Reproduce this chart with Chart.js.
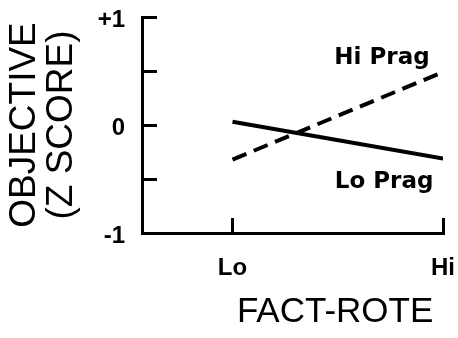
<!DOCTYPE html>
<html>
<head>
<meta charset="utf-8">
<script src="https://cdn.jsdelivr.net/npm/chart.js@4"></script>
<style>
  body { margin: 0; background: #fff; }
  canvas { display: block; }
</style>
</head>
<body>
<canvas id="pragChart" width="458" height="338"></canvas>
<script>
// fact-rote level (Lo, Hi)
const factRote = [0, 1];
const xTickLabels = ['Lo', 'Hi'];

// objective z scores
const hiPrag = [-0.32, 0.49];
const loPrag = [0.03, -0.31];

const yTickValues = [-1, 0, 1];
const yTickLabels = ['-1', '0', '+1'];

const seriesNames = ['Hi Prag', 'Lo Prag'];

function toPoints(values) {
    return factRote.map((x, i) => ({ x: x, y: values[i] }));
}

// names written next to the lines, placed in data units
const lineNames = {
    id: 'lineNames',
    afterDatasetsDraw(chart) {
        const ctx = chart.ctx;
        const x = chart.scales.x;
        const y = chart.scales.y;
        const spots = [[0.71, 0.62], [0.72, -0.53]];
        ctx.save();
        ctx.fillStyle = '#000';
        ctx.font = 'bold 23px "DejaVu Sans"';
        ctx.textAlign = 'center';
        ctx.textBaseline = 'middle';
        seriesNames.forEach((name, i) => {
            ctx.fillText(name, x.getPixelForValue(spots[i][0]), y.getPixelForValue(spots[i][1]));
        });
        ctx.restore();
    }
};

const ctx = document.getElementById('pragChart').getContext('2d');
const myChart = new Chart(ctx, {
    type: 'line',
    plugins: [lineNames],
    data: {
        datasets: [
            {
                label: seriesNames[0],
                data: toPoints(hiPrag),
                borderColor: '#000',
                borderWidth: 4,
                borderDash: [15, 8],
                pointRadius: 0,
                fill: false
            },
            {
                label: seriesNames[1],
                data: toPoints(loPrag),
                borderColor: '#000',
                borderWidth: 4,
                pointRadius: 0,
                fill: false
            }
        ]
    },
    options: {
        responsive: false,
        animation: false,
        layout: {
            padding: { top: 17, right: 15, left: 0, bottom: 0 }
        },
        plugins: {
            legend: { display: false },
            tooltip: { enabled: false }
        },
        scales: {
            x: {
                type: 'linear',
                min: -0.43,
                max: 1,
                afterBuildTicks: (scale) => {
                    scale.ticks = factRote.map(v => ({ value: v }));
                },
                afterFit: (scale) => {
                    // big label padding (inward ticks) should not eat the plot
                    scale.height = 105;
                    scale.paddingLeft = 0;
                    scale.paddingRight = 0;
                },
                border: { color: '#000', width: 3 },
                grid: {
                    drawOnChartArea: false,
                    color: '#000',
                    lineWidth: 3,
                    tickLength: -15
                },
                ticks: {
                    autoSkip: false,
                    maxRotation: 0,
                    padding: 36,
                    color: '#000',
                    font: { family: 'Liberation Sans', size: 24, weight: 'bold' },
                    callback: (value) => {
                        const i = factRote.indexOf(value);
                        return i >= 0 ? xTickLabels[i] : '';
                    }
                },
                title: {
                    display: true,
                    text: 'FACT-ROTE ',
                    align: 'end',
                    color: '#000',
                    font: { family: 'Liberation Sans', size: 35, lineHeight: 1 },
                    padding: { top: 0, bottom: 8 }
                }
            },
            y: {
                min: -1,
                max: 1,
                afterFit: (scale) => {
                    scale.width = 142;
                    scale.paddingTop = 0;
                    scale.paddingBottom = 0;
                },
                border: { color: '#000', width: 3 },
                grid: {
                    drawOnChartArea: false,
                    color: '#000',
                    lineWidth: 3,
                    tickLength: -15
                },
                ticks: {
                    stepSize: 0.5,
                    padding: 32,
                    labelOffset: 3,
                    color: '#000',
                    font: { family: 'Liberation Sans', size: 24, weight: 'bold' },
                    callback: (value) => {
                        const i = yTickValues.indexOf(value);
                        return i >= 0 ? yTickLabels[i] : '';
                    }
                },
                title: {
                    display: true,
                    text: ['OBJECTIVE', '(Z SCORE)'],
                    color: '#000',
                    font: { family: 'Liberation Sans', size: 37, lineHeight: 1 },
                    padding: { top: 6, bottom: 0 }
                }
            }
        }
    }
});
</script>
</body>
</html>
